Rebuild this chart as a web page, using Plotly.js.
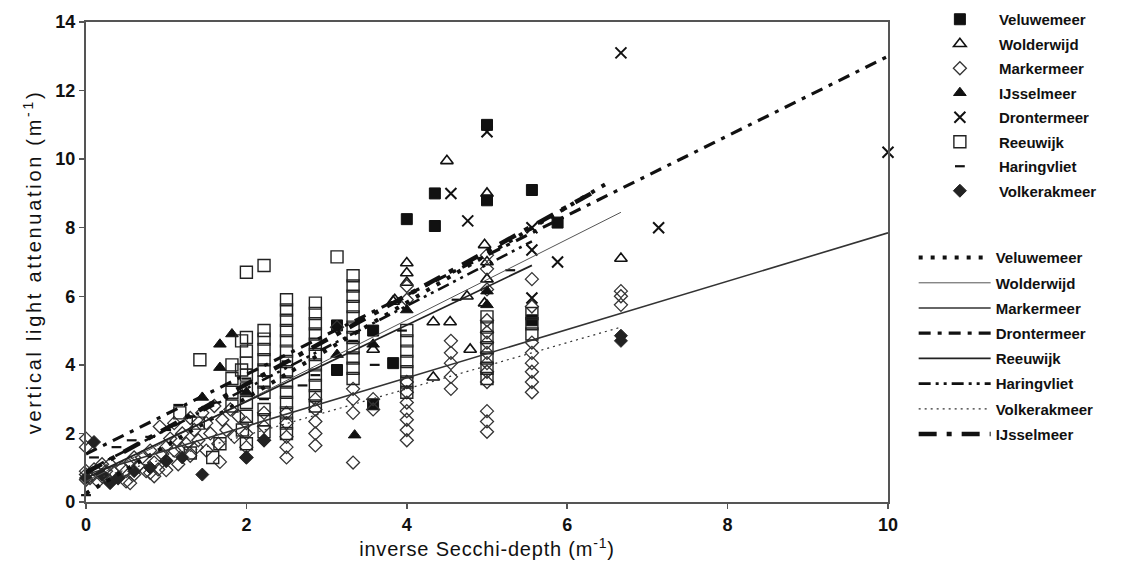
<!DOCTYPE html>
<html>
<head>
<meta charset="utf-8">
<script src="https://cdn.plot.ly/plotly-3.0.1.min.js"></script>
<style>
html,body{margin:0;padding:0;background:#fff;}
#chart{width:1122px;height:576px;}
#chart .ytitle{letter-spacing:2.7px;}
#chart .xtitle{letter-spacing:0.8px;}
</style>
</head>
<body>
<div id="chart"></div>
<script>
// ---------------- data ----------------
const veluwemeerX = [5.0, 4.0, 4.35, 4.35, 5.0, 5.56, 5.88, 3.83, 3.13, 3.13, 3.58, 3.58, 5.56];
const veluwemeerY = [11.0, 8.25, 8.05, 9.0, 8.8, 9.1, 8.15, 4.05, 5.15, 3.85, 5.0, 2.85, 5.3];

const wolderwijdX = [4.5, 5.0, 6.67, 4.0, 4.0, 4.0, 3.85, 4.33, 4.54, 4.75, 4.79, 4.33, 4.97, 4.97, 3.58, 3.83, 5.0, 5.0];
const wolderwijdY = [9.95, 9.0, 7.1, 6.97, 6.68, 6.4, 5.9, 5.25, 5.25, 6.0, 4.45, 3.64, 7.5, 5.8, 4.45, 5.85, 6.5, 7.0];

const markermeerX = [
  0, 0, 0, 0, 0, 0.05, 0.1, 0.15, 0.2, 0.25, 0.3, 0.35, 0.4, 0.45, 0.5, 0.5, 0.55, 0.6, 0.65, 0.7,
  0.75, 0.8, 0.85, 0.9, 0.92, 0.95, 1.0, 1.0, 1.05, 1.1, 1.1, 1.13, 1.15, 1.2, 1.25, 1.3, 1.3, 1.35, 1.38, 1.4,
  1.45, 1.5, 1.5, 1.55, 1.6, 1.65, 1.67, 1.7, 1.75, 1.8, 1.85, 1.9, 0.85, 1.2, 0.6, 0.3, 1.0, 0.55, 0.2, 0.8,
  2.0, 2.0, 2.0, 2.0, 2.22, 2.22, 2.22,
  2.5, 2.5, 2.5, 2.5, 2.5,
  2.86, 2.86, 2.86, 2.86, 2.86,
  3.33, 3.33, 3.33, 3.33, 3.13,
  3.58, 3.58,
  4.0, 4.0, 4.0, 4.0, 4.0, 4.0, 4.0, 4.0, 4.0,
  4.55, 4.55, 4.55, 4.55, 4.55,
  5.0, 5.0, 5.0, 5.0, 5.0, 5.0, 5.0, 5.0, 5.0, 5.0, 5.0, 5.0, 5.0,
  5.56, 5.56, 5.56, 5.56, 5.56, 5.56, 5.56, 5.56,
  6.67, 6.67, 6.67
];
const markermeerY = [
  0.65, 0.8, 0.9, 1.6, 1.85, 0.7, 0.95, 0.6, 0.75, 0.9, 0.6, 0.85, 0.7, 1.0, 0.6, 0.9, 1.15, 0.8, 1.05, 1.3,
  0.9, 1.5, 1.15, 0.95, 2.2, 1.4, 1.6, 1.2, 1.85, 2.3, 1.5, 1.8, 1.1, 2.0, 1.7, 2.45, 1.35, 2.1, 1.6, 1.8,
  2.6, 1.5, 2.3, 2.0, 2.8, 1.7, 1.17, 2.4, 2.1, 2.7, 1.9, 2.5, 0.75, 1.55, 1.3, 1.1, 0.93, 0.55, 1.1, 0.85,
  1.3, 1.6, 2.0, 2.3, 1.8, 2.2, 2.6,
  1.3, 1.6, 1.9, 2.3, 2.6,
  1.65, 2.0, 2.35, 2.7, 3.0,
  1.15, 2.6, 3.0, 3.3, 5.1,
  2.7, 3.0,
  1.8, 2.1, 2.4, 2.65, 2.9, 3.2, 3.5, 5.9, 6.3,
  3.3, 3.65, 4.05, 4.35, 4.7,
  2.05, 2.35, 2.65, 3.5, 3.8, 4.05, 4.35, 4.65, 4.95, 5.3, 6.2, 6.8, 7.2,
  3.2, 3.5, 3.8, 4.05, 4.35, 4.65, 5.7, 6.5,
  5.75, 6.0, 6.15
];

const ijsselmeerX = [1.67, 1.82, 1.67, 1.45, 3.35, 5.0, 5.0, 3.58, 3.13, 2.0, 4.0];
const ijsselmeerY = [4.6, 4.9, 3.92, 3.05, 1.95, 6.15, 5.75, 4.6, 4.3, 3.2, 5.6];

const drontermeerX = [6.67, 10.0, 7.14, 5.0, 4.55, 4.76, 5.56, 5.56, 5.88, 5.56];
const drontermeerY = [13.1, 10.2, 8.0, 10.8, 9.0, 8.2, 8.0, 7.35, 7.0, 5.95];

const reeuwijkX = [
  2.0, 2.22, 3.13, 1.42,
  1.94, 1.94, 1.95, 1.67, 1.4, 1.17, 1.3, 1.58,
  1.82, 1.82, 1.82, 1.82,
  2.0, 2.0, 2.0, 2.0, 2.0, 2.0, 2.0, 2.0,
  2.22, 2.22, 2.22, 2.22, 2.22, 2.22, 2.22, 2.22, 2.22, 2.22,
  2.5, 2.5, 2.5, 2.5, 2.5, 2.5, 2.5, 2.5, 2.5, 2.5, 2.5, 2.5, 2.5, 2.5,
  2.86, 2.86, 2.86, 2.86, 2.86, 2.86, 2.86, 2.86, 2.86, 2.86, 2.86,
  3.33, 3.33, 3.33, 3.33, 3.33, 3.33, 3.33, 3.33, 3.33, 3.33, 3.33,
  4.0, 4.0, 4.0, 4.0, 4.0, 4.0, 4.0,
  5.0, 5.0, 5.0, 5.0, 5.0, 5.0, 5.0,
  5.56, 5.56, 5.56
];
const reeuwijkY = [
  6.7, 6.9, 7.15, 4.15,
  4.7, 3.85, 2.1, 1.7, 2.3, 2.6, 1.43, 1.3,
  4.0, 3.6, 3.2, 2.8,
  4.8, 4.4, 4.05, 3.7, 3.3, 2.9, 2.5, 1.7,
  5.0, 4.75, 4.45, 4.15, 3.85, 3.5, 3.2, 2.7, 2.4, 2.05,
  5.9, 5.6, 5.3, 5.0, 4.7, 4.4, 4.1, 3.8, 3.5, 3.2, 2.9, 2.6, 2.3, 2.0,
  5.8, 5.5, 5.2, 4.9, 4.6, 4.3, 4.0, 3.7, 3.4, 3.1, 2.8,
  6.6, 6.3, 6.0, 5.7, 5.4, 5.1, 4.8, 4.5, 4.2, 3.9, 3.6,
  5.0, 4.7, 4.4, 4.1, 3.8, 3.5, 3.2,
  5.4, 5.1, 4.8, 4.5, 4.2, 3.9, 3.6,
  5.5, 5.2, 4.9
];

const haringvlietX = [0.1, 0.38, 0.57, 0.8, 1.15, 1.3, 1.6, 2.0, 2.22, 2.5, 2.86, 3.33, 3.94, 4.62, 5.29, 1.0, 0.0, 2.7, 3.6];
const haringvlietY = [1.3, 1.6, 1.8, 1.9, 2.83, 2.5, 2.9, 3.6, 3.0, 4.1, 3.7, 4.7, 5.0, 5.9, 6.76, 2.1, 0.2, 3.4, 4.0];

const volkerakmeerX = [0.0, 0.2, 0.4, 0.6, 0.8, 1.0, 1.2, 1.45, 2.0, 2.22, 6.67, 6.67, 0.1, 0.3];
const volkerakmeerY = [0.7, 0.8, 0.7, 0.9, 1.0, 1.2, 1.3, 0.8, 1.3, 1.8, 4.7, 4.85, 1.75, 0.55];

// regression lines: start and end points
const fitNames  = ['Veluwemeer', 'Wolderwijd', 'Markermeer', 'Drontermeer', 'Reeuwijk', 'Haringvliet', 'Volkerakmeer', 'IJsselmeer'];
const fitStartX = [0, 0, 0, 0, 0, 0, 0, 0];
const fitEndX   = [6.5, 6.67, 10.0, 10.0, 5.56, 5.56, 6.67, 6.3];
const fitStartY = [0.25, 0.6, 0.8, 1.4, 0.7, 0.9, 0.6, 0.85];
const fitEndY   = [9.3, 8.45, 7.85, 13.0, 6.9, 7.6, 5.1, 9.0];

const xTicks = [0, 2, 4, 6, 8, 10];
const yTicks = [0, 2, 4, 6, 8, 10, 12, 14];

// ---------------- styles ----------------
const FONT = 'Liberation Sans, Arial, sans-serif';
const pointSeries = [
  {name: 'Veluwemeer',   x: veluwemeerX,   y: veluwemeerY,   symbol: 'square',          size: 11, color: '#111', lw: 1},
  {name: 'Wolderwijd',   x: wolderwijdX,   y: wolderwijdY,   symbol: 'triangle-up-open', size: 11, color: '#111', lw: 1.6},
  {name: 'Markermeer',   x: markermeerX,   y: markermeerY,   symbol: 'diamond-open',    size: 10, color: '#333', lw: 1.3},
  {name: 'IJsselmeer',   x: ijsselmeerX,   y: ijsselmeerY,   symbol: 'triangle-up',     size: 11, color: '#111', lw: 1},
  {name: 'Drontermeer',  x: drontermeerX,  y: drontermeerY,  symbol: 'x-thin-open',     size: 11, color: '#111', lw: 2},
  {name: 'Reeuwijk',     x: reeuwijkX,     y: reeuwijkY,     symbol: 'square-open',     size: 12, color: '#222', lw: 1.4},
  {name: 'Haringvliet',  x: haringvlietX,  y: haringvlietY,  symbol: 'line-ew-open',    size: 7,  color: '#111', lw: 2.2},
  {name: 'Volkerakmeer', x: volkerakmeerX, y: volkerakmeerY, symbol: 'diamond',         size: 10, color: '#222', lw: 1}
];
const lineStyles = {
  'Veluwemeer':   {dash: '4px,8px',            width: 4,   color: '#111'},
  'Wolderwijd':   {dash: 'solid',              width: 1,   color: '#555'},
  'Markermeer':   {dash: 'solid',              width: 1.6, color: '#333'},
  'Drontermeer':  {dash: '12px,7px,4px,7px',   width: 3.2, color: '#111'},
  'Reeuwijk':     {dash: 'solid',              width: 1.8, color: '#222'},
  'Haringvliet':  {dash: '12px,5px,3px,5px,3px,5px', width: 2.6, color: '#111'},
  'Volkerakmeer': {dash: '2px,4px',            width: 1.2, color: '#333'},
  'IJsselmeer':   {dash: '18px,10px,5px,10px', width: 4.5, color: '#111'}
};

const traces = [];
pointSeries.forEach((s, i) => {
  traces.push({
    type: 'scatter', mode: 'markers', name: s.name, x: s.x, y: s.y,
    legend: 'legend', legendgroup: 'p' + i,
    marker: {symbol: s.symbol, size: s.size, color: s.color, line: {color: s.color, width: s.lw}},
    cliponaxis: false
  });
});
fitNames.forEach((n, i) => {
  const st = lineStyles[n];
  traces.push({
    type: 'scatter', mode: 'lines', name: n,
    x: [fitStartX[i], fitEndX[i]], y: [fitStartY[i], fitEndY[i]],
    legend: 'legend2', legendgroup: 'f' + i,
    line: {dash: st.dash, width: st.width, color: st.color}
  });
});

const axisCommon = {
  showgrid: false, zeroline: false, showline: true, linecolor: '#555', linewidth: 2.2,
  mirror: true, ticks: 'outside', ticklen: 5, tickwidth: 1.5, tickcolor: '#555',
  tickfont: {family: FONT, size: 18, color: '#111', weight: 'bold'}
};

const layout = {
  width: 1122, height: 576,
  margin: {l: 86, r: 234, t: 22, b: 74, autoexpand: false},
  paper_bgcolor: '#fff', plot_bgcolor: '#fff',
  showlegend: true,
  xaxis: Object.assign({}, axisCommon, {
    range: [0, 10], tickvals: xTicks, ticktext: xTicks.map(String),
    title: {text: 'inverse Secchi-depth (m<sup>-1</sup>)', font: {family: FONT, size: 20, color: '#111'}, standoff: 6}
  }),
  yaxis: Object.assign({}, axisCommon, {
    range: [0, 14], tickvals: yTicks, ticktext: yTicks.map(String),
    title: {text: 'vertical light attenuation (m<sup>-1</sup>)', font: {family: FONT, size: 20, color: '#111'}, standoff: 8}
  }),
  legend: {
    x: 1.041, y: 1.0396, xanchor: 'left', yanchor: 'top',
    traceorder: 'grouped', tracegroupgap: 2, itemwidth: 68,
    font: {family: FONT, size: 15, color: '#111', weight: 'bold'},
    bgcolor: 'rgba(0,0,0,0)', borderwidth: 0
  },
  legend2: {
    x: 1.032, y: 0.543, xanchor: 'left', yanchor: 'top',
    traceorder: 'grouped', tracegroupgap: 2.7, itemwidth: 72,
    font: {family: FONT, size: 15, color: '#111', weight: 'bold'},
    bgcolor: 'rgba(0,0,0,0)', borderwidth: 0
  }
};

Plotly.newPlot('chart', traces, layout, {displayModeBar: false, staticPlot: true});
</script>
</body>
</html>
